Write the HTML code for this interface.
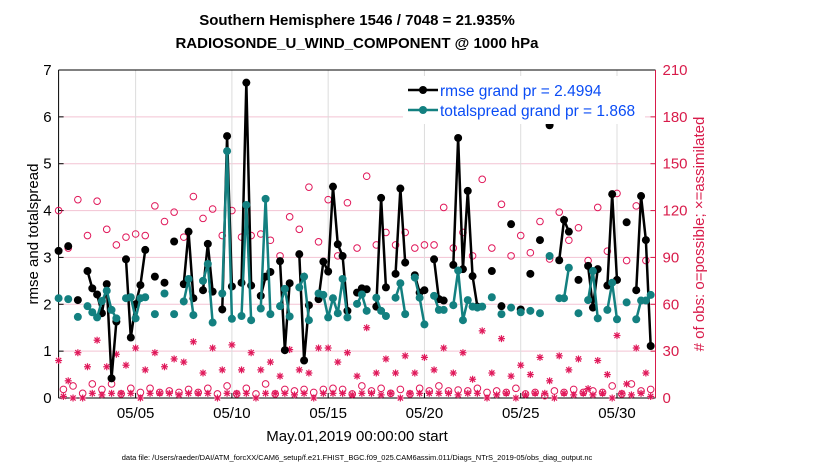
<!DOCTYPE html>
<html><head><meta charset="utf-8"><style>
body{margin:0;background:#fff;}
svg{display:block;font-family:"Liberation Sans",sans-serif;}
</style></head><body>
<svg id="chart" width="830" height="470">
<text x="357" y="25" text-anchor="middle" font-size="15" font-weight="bold">Southern Hemisphere 1546 / 7048 = 21.935%</text>
<text x="357" y="48" text-anchor="middle" font-size="15" font-weight="bold">RADIOSONDE_U_WIND_COMPONENT @ 1000 hPa</text>
<g id="grid"></g><g id="axes"></g><g id="marks"></g>
<text transform="translate(38,234) rotate(-90)" text-anchor="middle" font-size="15">rmse and totalspread</text>
<text transform="translate(704,234) rotate(-90)" text-anchor="middle" font-size="15" fill="#d81b4a"># of obs: o=possible; ×=assimilated</text>
<text x="357" y="441" text-anchor="middle" font-size="15">May.01,2019 00:00:00 start</text>
<text x="357" y="460" text-anchor="middle" font-size="7.5">data file: /Users/raeder/DAI/ATM_forcXX/CAM6_setup/f.e21.FHIST_BGC.f09_025.CAM6assim.011/Diags_NTrS_2019-05/obs_diag_output.nc</text>
<g>
<rect x="403" y="76" width="242" height="48" fill="#fff"/>
<line x1="408" y1="90" x2="438" y2="90" stroke="#000" stroke-width="2.5"/><circle cx="423" cy="90" r="4" fill="#000"/>
<text x="440" y="96" font-size="15.5" fill="#0a4cf5">rmse grand pr = 2.4994</text>
<line x1="408" y1="110" x2="438" y2="110" stroke="#138080" stroke-width="2.5"/><circle cx="423" cy="110" r="4" fill="#138080"/>
<text x="440" y="116" font-size="15.5" fill="#0a4cf5">totalspread grand pr = 1.868</text>
</g>
</svg>
<script>
const n=null;
const rmse=[3.14,n,3.24,n,2.09,n,2.71,2.34,2.21,1.81,2.43,0.42,1.63,n,2.96,1.29,2.0,2.41,3.16,n,2.59,n,2.46,n,3.34,n,2.43,3.55,2.13,n,2.30,3.29,2.27,n,1.89,5.59,2.38,n,2.46,6.73,2.40,n,2.18,2.59,2.69,n,2.92,1.02,2.45,n,3.07,0.80,1.98,n,2.11,2.91,2.70,4.51,3.28,3.03,1.86,n,2.25,2.34,2.32,n,1.95,4.27,2.36,n,2.65,4.47,2.89,n,2.62,2.25,2.30,n,2.96,2.11,2.08,n,2.84,5.55,2.75,4.42,2.60,1.95,n,n,2.71,n,1.96,n,3.71,n,1.89,n,2.65,n,3.37,n,5.82,n,2.94,3.80,3.55,n,2.52,n,2.82,1.93,2.75,n,2.40,4.35,2.52,n,3.75,n,2.30,4.31,3.37,1.11];
const spread=[2.13,n,2.11,n,1.73,n,1.96,1.83,1.72,2.07,2.29,1.88,1.70,n,2.13,2.15,1.70,2.13,2.15,n,1.79,n,2.23,n,1.79,n,2.06,2.54,1.77,n,2.50,2.86,1.61,n,2.23,5.27,1.69,n,1.75,4.12,1.66,n,1.91,4.25,1.79,n,1.96,2.33,1.74,n,2.36,2.59,1.66,n,2.23,2.20,1.72,2.13,1.81,2.54,1.72,n,2.01,2.21,1.86,n,2.14,1.86,1.75,n,2.14,2.45,1.79,n,2.57,2.14,1.57,n,2.18,1.88,1.88,n,1.98,2.72,1.66,2.09,1.95,1.93,1.95,n,2.15,n,1.79,n,1.93,n,1.83,n,1.86,n,1.81,n,3.03,n,2.13,2.13,2.78,n,1.81,n,2.09,2.71,1.70,n,1.88,2.46,1.68,n,2.04,n,1.68,2.08,2.08,2.20];
const possibleEven=[120,96,127,104,126,108,98,103,105,104,123,113,119,103,129,115,121,104,120,103,104,105,101,91,116,108,135,100,127,91,125,96,142,98,106,98,106,96,98,98,122,96,106,91,140,96,124,91,104,93,113,89,119,101,109,88,122,94,131,88,123,88];
const possibleOdd=[5.5,7.7,3,9,5.5,9,2.6,6.2,3.6,6.2,3.6,4.5,3.6,5.5,3.6,6.2,2.6,7.7,2.6,6.2,2.6,9,2.6,5.5,4.5,5.5,3.6,5.5,6.2,5.5,2.6,7.7,4.5,6.2,3,5.5,2.6,6.2,4.5,7.7,4.5,5.1,4.5,6.2,3.6,4.5,3.6,6.2,2.6,3.6,1.5,4.5,3.6,5.5,3.6,4.5,3.6,7.7,2.6,9,4.5,5.5];
const assimEven=[24,11,29,20,37,20,28,21,32,18,29,20,25,23,36,16,32,18,34,18,29,18,23,14,31,18,16,32,32,23,29,14,45,16,25,16,27,16,26,18,32,16,29,12,43,16,38,14,21,15,26,11,27,18,25,6,24,15,40,9,32,16];
const assimOdd=[1,0,0,3,2,3,3,3,0,3,3,3,2,3,3,3,0,3,3,3,0,3,3,3,2,3,0,3,3,3,2,3,3,2,3,0,3,3,3,3,3,2,3,3,0,2,3,0,2,3,3,0,3,2,3,2,3,0,3,2,3,1];
const xTickDays=[4,9,14,19,24,29];
const xTickLabels=["05/05","05/10","05/15","05/20","05/25","05/30"];
const yTicks=[0,1,2,3,4,5,6,7];
const y2Ticks=[0,30,60,90,120,150,180,210];

const L=58.6,R=655.5,T=70,B=398;
const xs=d=>L+d*(R-L)/31;
const ys=v=>B-v*(B-T)/7;
const ys2=v=>B-v*(B-T)/210;
const NS="http://www.w3.org/2000/svg";
function mk(tag,attrs,parent){const e=document.createElementNS(NS,tag);for(const k in attrs)e.setAttribute(k,attrs[k]);parent.appendChild(e);return e;}
const grid=document.getElementById('grid'),axes=document.getElementById('axes'),marks=document.getElementById('marks');
mk('rect',{x:L,y:T,width:R-L,height:B-T,fill:'#fff'},grid);
yTicks.forEach(v=>{if(v>0&&v<7){const g=mk('line',{x1:L,x2:R,y1:ys(v),y2:ys(v),stroke:'#f3c3d3','stroke-width':1},grid);

}
const t=mk('text',{x:L-7,y:ys(v)+5,'text-anchor':'end','font-size':15},axes);t.textContent=v;


mk('line',{x1:L,x2:L+5,y1:ys(v),y2:ys(v),stroke:'#000'},axes);});
y2Ticks.forEach(v=>{const t=mk('text',{x:R+7,y:ys2(v)+5,'font-size':15,fill:'#d81b4a'},axes);t.textContent=v;


mk('line',{x1:R-5,x2:R,y1:ys2(v),y2:ys2(v),stroke:'#d81b4a'},axes);});
xTickDays.forEach((d,k)=>{const g=mk('line',{x1:xs(d),x2:xs(d),y1:T,y2:B,stroke:'#dcdcdc'},grid);


mk('line',{x1:xs(d),x2:xs(d),y1:B,y2:B-5,stroke:'#000'},axes);
const t=mk('text',{x:xs(d),y:B+20,'text-anchor':'middle','font-size':15},axes);t.textContent=xTickLabels[k];

});
mk('line',{x1:L,x2:R,y1:B,y2:B,stroke:'#000'},axes);
mk('line',{x1:L,x2:R,y1:T,y2:T,stroke:'#000'},axes);
mk('line',{x1:L,x2:L,y1:T,y2:B,stroke:'#000'},axes);
mk('line',{x1:R,x2:R,y1:T,y2:B,stroke:'#d81b4a'},axes);
const day=i=>i*0.25;
function star(cx,cy,p){const g=mk('g',{stroke:'#e0185a','stroke-width':1.2},p);


const r=3.5;mk('line',{x1:cx-r,x2:cx+r,y1:cy,y2:cy},g);mk('line',{x1:cx,x2:cx,y1:cy-r,y2:cy+r},g);
mk('line',{x1:cx-2.6,x2:cx+2.6,y1:cy-2.6,y2:cy+2.6},g);mk('line',{x1:cx-2.6,x2:cx+2.6,y1:cy+2.6,y2:cy-2.6},g);}
function obs(arrEven,arrOdd,isStar){
 arrEven.forEach((v,k)=>{const x=xs(day(2*k)),y=ys2(v);if(isStar)star(x,y,marks);else{const c=mk('circle',{cx:x,cy:y,r:3.3,fill:'none',stroke:'#e0185a','stroke-width':1},marks);

}});
 arrOdd.forEach((v,k)=>{const x=xs(day(2*k+1)),y=ys2(v);if(isStar)star(x,y,marks);else{const c=mk('circle',{cx:x,cy:y,r:3.3,fill:'none',stroke:'#e0185a','stroke-width':1},marks);

}});}
obs(possibleEven,possibleOdd,false);
obs(assimEven,assimOdd,true);
function series(arr,color,name){
 let seg=[];const segs=[];
 arr.forEach((v,i)=>{if(v==null){if(seg.length)segs.push(seg);seg=[];}else seg.push([xs(day(i)),ys(v)]);});
 if(seg.length)segs.push(seg);
 segs.forEach(s=>{if(s.length>1){const p=mk('polyline',{points:s.map(q=>q.join(',')).join(' '),fill:'none',stroke:color,'stroke-width':2.5},marks);
 
 }});
 arr.forEach((v,i)=>{if(v==null)return;const c=mk('circle',{cx:xs(day(i)),cy:ys(v),r:4,fill:color},marks);
 
 });}
series(rmse,'#000','rmse');
series(spread,'#138080','totalspread');
</script>
</body></html>
